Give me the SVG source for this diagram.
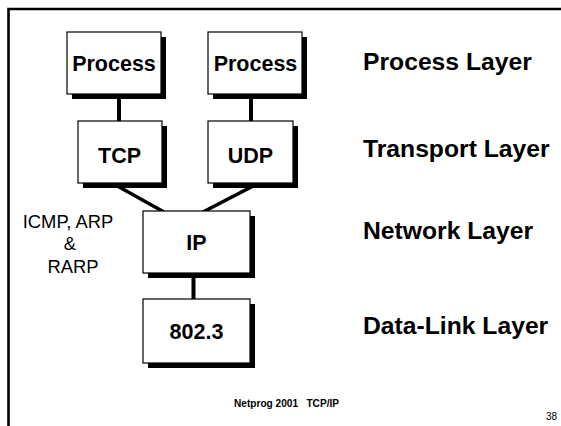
<svg xmlns="http://www.w3.org/2000/svg" width="561" height="426" viewBox="0 0 561 426">
<style>
.box{fill:#fff;stroke:#000;stroke-width:1.2}
.sh{fill:#000}
.bt{font-family:"Liberation Sans",Arial,sans-serif;font-weight:bold;font-size:21.5px;text-anchor:middle;fill:#000}
.lay{font-family:"Liberation Sans",Arial,sans-serif;font-weight:bold;font-size:24.7px;fill:#000}
.side{font-family:"Liberation Sans",Arial,sans-serif;font-size:18.4px;text-anchor:middle;fill:#000}
.conn{stroke:#000;fill:none}
</style>
<rect width="561" height="426" fill="#fff"/>
<path d="M8.5 426 V9 H561" fill="none" stroke="#000" stroke-width="2.6"/>
<g id="connectors">
<line class="conn" x1="119" y1="94" x2="119" y2="121" stroke-width="4"/>
<line class="conn" x1="251" y1="94" x2="251" y2="121" stroke-width="4"/>
<line class="conn" x1="112" y1="183" x2="164" y2="212" stroke-width="3.5"/>
<line class="conn" x1="259" y1="183" x2="203" y2="212" stroke-width="3.5"/>
<line class="conn" x1="193.5" y1="273" x2="193.5" y2="299" stroke-width="4"/>
</g>
<g id="process1">
<rect class="sh" x="72" y="37" width="94" height="62"/>
<rect class="box" x="67" y="32" width="94" height="62"/>
<text class="bt" x="114" y="71">Process</text>
</g>
<g id="process2">
<rect class="sh" x="213" y="37" width="94" height="62"/>
<rect class="box" x="208" y="32" width="94" height="62"/>
<text class="bt" x="255.5" y="71">Process</text>
</g>
<g id="tcp">
<rect class="sh" x="83" y="126" width="84" height="62"/>
<rect class="box" x="78" y="121" width="84" height="62"/>
<text class="bt" x="119.5" y="163">TCP</text>
</g>
<g id="udp">
<rect class="sh" x="213" y="126" width="85" height="62"/>
<rect class="box" x="208" y="121" width="85" height="62"/>
<text class="bt" x="250.5" y="163">UDP</text>
</g>
<g id="ip">
<rect class="sh" x="148" y="216" width="107" height="62"/>
<rect class="box" x="143" y="211" width="107" height="62"/>
<text class="bt" x="196.5" y="250">IP</text>
</g>
<g id="ieee8023">
<rect class="sh" x="148" y="304" width="107" height="64"/>
<rect class="box" x="143" y="299" width="107" height="64"/>
<text class="bt" x="196.5" y="339">802.3</text>
</g>
<g id="side-label">
<text class="side" x="68" y="228">ICMP, ARP</text>
<text class="side" x="70" y="250">&amp;</text>
<text class="side" x="73" y="273">RARP</text>
</g>
<g id="layers">
<text class="lay" x="363" y="70">Process Layer</text>
<text class="lay" x="363" y="157">Transport Layer</text>
<text class="lay" x="363" y="239">Network Layer</text>
<text class="lay" x="363" y="334">Data-Link Layer</text>
</g>
<text x="234" y="407" font-family="Liberation Sans, Arial, sans-serif" font-weight="bold" font-size="10" xml:space="preserve" textLength="105" lengthAdjust="spacingAndGlyphs">Netprog 2001   TCP/IP</text>
<text x="557" y="420" font-family="Liberation Sans, Arial, sans-serif" font-size="10" text-anchor="end">38</text>
</svg>
